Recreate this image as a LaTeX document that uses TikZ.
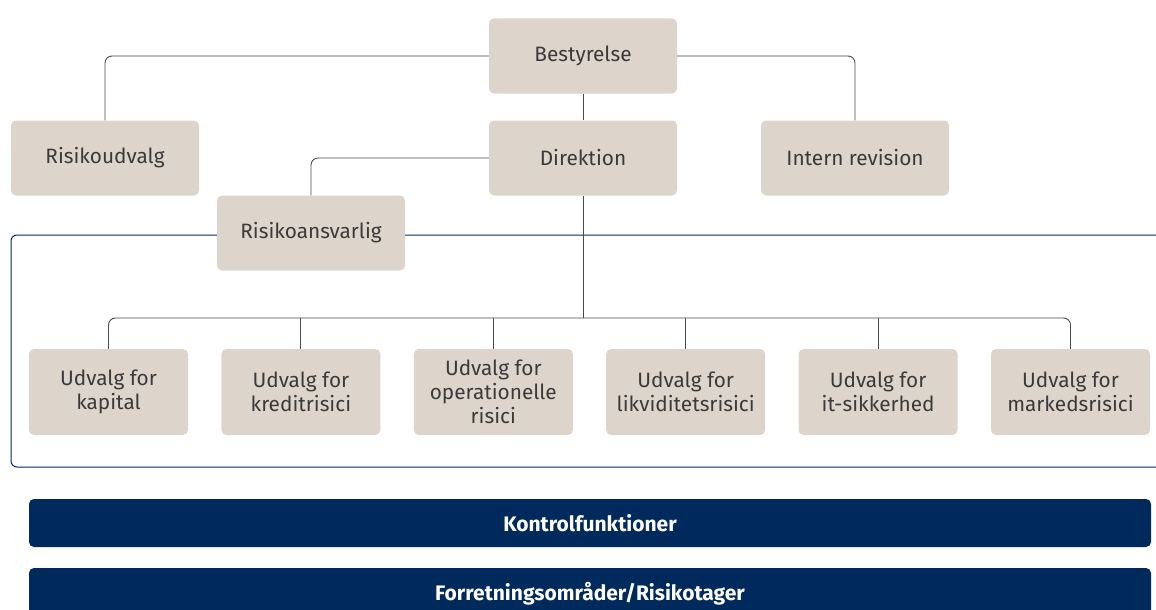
\documentclass[tikz,border=0pt]{standalone}
\usepackage{fontspec}
\setmainfont{Fira Sans}
\definecolor{beige}{HTML}{DDD5CC}
\definecolor{navy}{HTML}{002A5C}
\definecolor{txt}{HTML}{3A3A3A}
\definecolor{ln}{HTML}{4A4A4A}
\begin{document}
\begin{tikzpicture}[x=1pt,y=-1pt,
  box/.style={fill=beige, rounded corners=5pt, minimum width=188pt, minimum height=75pt, inner sep=0pt,
    text=txt, font=\fontsize{20.8}{24}\selectfont, align=center},
  sbox/.style={box, minimum width=159pt, minimum height=86pt},
  bar/.style={fill=navy, rounded corners=5pt, minimum width=1122pt, inner sep=0pt, text=white,
    font=\fontsize{21}{24}\selectfont\bfseries},
  conn/.style={draw=ln, line width=0.9pt, rounded corners=7pt},
  frame/.style={draw=navy, line width=1pt, rounded corners=6pt}]
\clip (0,0) rectangle (1156,610);
\fill[white] (0,0) rectangle (1156,610);
% frame
\draw[frame] (1180,235) -- (11,235) -- (11,467) -- (1180,467);
% nodes
\node[box] (best) at (583,56) {Bestyrelse};
\node[box] (risk) at (105,158) {Risikoudvalg};
\node[box] (dir) at (583,158) {Direktion};
\node[box] (rev) at (855,158) {Intern revision};
\node[box] (ans) at (311,233) {Risikoansvarlig};
\node[sbox] (u1) at (108.5,392) {Udvalg for\\kapital};
\node[sbox] (u2) at (300.9,392) {Udvalg for\\kreditrisici};
\node[sbox] (u3) at (493.3,392) {Udvalg for\\operationelle\\risici};
\node[sbox] (u4) at (685.7,392) {Udvalg for\\likviditetsrisici};
\node[sbox] (u5) at (878.1,392) {Udvalg for\\it-sikkerhed};
\node[sbox] (u6) at (1070.5,392) {Udvalg for\\markedsrisici};
\node[bar, minimum height=48pt] (k) at (590,523) {Kontrolfunktioner};
\node[bar, minimum height=52pt] (f) at (590,594) {Forretningsområder/Risikotager};
% connectors
\coordinate (bus) at (583,318);
\draw[conn] (best.west) -| (risk.north);
\draw[conn] (best.east) -| (rev.north);
\draw[conn] (best.south) -- (dir.north);
\draw[conn] (dir.west) -| (ans.north);
\draw[conn] (dir.south) -- (bus);
\draw[conn] (u1.north) |- (bus) -| (u6.north);
\foreach \u in {u2,u3,u4,u5} \draw[conn] (\u.north) -- (\u.north |- bus);
\end{tikzpicture}
\end{document}
